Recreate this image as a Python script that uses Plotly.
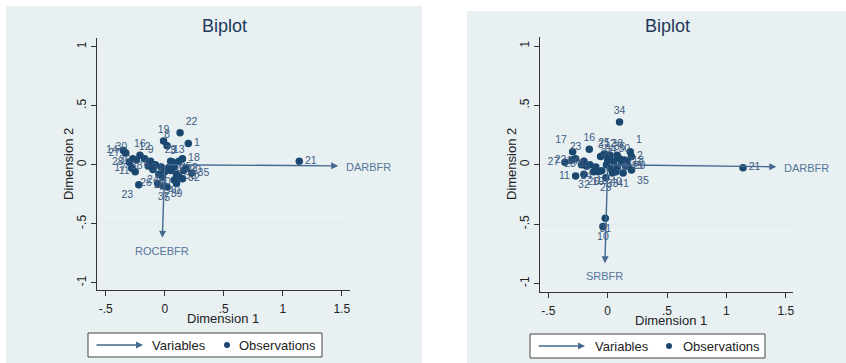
import plotly.graph_objects as go

W, H = 846, 363

# ---------------- data ----------------
obs_ids = [str(i) for i in range(1, 42)]

left_x = [0.20, 0.18, 0.07, 0.05, 0.02, -0.08, 0.10, 0.02, -0.12, 0.00,
          -0.25, -0.17, 0.12, -0.35, -0.05, -0.21, -0.28, 0.15, -0.01, 0.16,
          1.14, 0.13, -0.22, -0.10, 0.08, -0.06, -0.33, -0.30, 0.05, -0.27,
          -0.03, 0.15, 0.12, 0.03, 0.23, -0.24, -0.01, -0.14, 0.10, 0.08, -0.02]
left_y = [0.18, -0.03, 0.02, -0.05, -0.19, 0.00, -0.08, 0.16, 0.03, -0.06,
          -0.06, 0.05, 0.03, 0.12, -0.08, 0.08, -0.03, 0.05, 0.20, -0.05,
          0.03, 0.27, -0.17, -0.04, -0.02, -0.16, 0.10, 0.02, 0.03, 0.05,
          -0.02, -0.12, -0.10, -0.03, -0.07, 0.04, -0.18, -0.01, -0.16, -0.13, -0.10]

right_x = [0.19, 0.20, -0.06, 0.05, 0.08, -0.10, 0.12, -0.15, 0.00, -0.04,
           -0.27, 0.02, -0.05, -0.20, 0.15, -0.155, -0.295, 0.16, -0.08, 0.17,
           1.14, -0.30, -0.27, -0.18, -0.03, -0.12, -0.36, -0.22, -0.015, 0.14,
           -0.02, -0.20, 0.04, 0.10, 0.20, 0.10, -0.01, 0.08, 0.02, 0.07, 0.13]
right_y = [0.11, 0.07, 0.07, 0.03, -0.02, -0.02, 0.02, 0.00, 0.04, -0.52,
           -0.095, 0.08, -0.05, 0.03, -0.01, 0.13, 0.11, 0.03, -0.06, -0.01,
           -0.025, 0.04, 0.05, -0.01, 0.09, -0.06, 0.02, 0.00, -0.11, 0.04,
           -0.45, -0.08, -0.07, 0.36, -0.045, 0.05, 0.00, 0.08, -0.03, -0.06, -0.07]

left_vars = ["DARBFR", "ROCEBFR"]
left_var_x = [1.47, -0.02]
left_var_y = [-0.01, -0.62]

right_vars = ["DARBFR", "SRBFR"]
right_var_x = [1.42, -0.023]
right_var_y = [-0.017, -0.83]

x_tickvals = [-0.5, 0, 0.5, 1, 1.5]
x_ticktext = ["-.5", "0", ".5", "1", "1.5"]
y_tickvals = [-1, -0.5, 0, 0.5, 1]
y_ticktext = ["-1", "-.5", "0", ".5", "1"]

# label placement styles (per observation)
left_pos = ["middle right", "middle right", "top center", "middle right", "bottom center",
            "middle left", "middle right", "top center", "top center", "bottom center",
            "middle left", "top center", "top center", "middle left", "bottom center",
            "top center", "middle left", "middle right", "top center", "middle right",
            "middle right", "top right", "bottom left", "bottom center", "middle right",
            "middle left", "middle left", "middle left", "top center", "top left",
            "bottom center", "middle right", "middle right", "middle left", "middle right",
            "middle left", "bottom center", "middle left", "bottom center", "bottom center", "bottom center"]
right_pos = ["top right", "middle right", "top center", "top center", "middle right",
             "middle left", "middle right", "middle left", "top center", "bottom center",
             "middle left", "top center", "bottom center", "middle left", "middle right",
             "top center", "top left", "middle right", "bottom center", "middle right",
             "middle right", "middle left", "top center", "bottom center", "top center",
             "bottom center", "middle left", "middle left", "bottom center", "top center",
             "bottom center", "bottom center", "bottom center", "top center", "bottom right",
             "top center", "top center", "top center", "middle right", "bottom center", "bottom center"]

# ---------------- style ----------------
FONT = "Liberation Sans, Arial, sans-serif"
PANEL = "#e8f0f2"
MARK = "#1a476f"
OBSLAB = "#3d5d83"
ARROW = "#46698f"
VARLAB = "#56769a"
AXIS = "#333333"


def px(x):
    return x / W


def py(y):
    return 1 - y / H


fig = go.Figure()

for (xs, ys, pos, xa, ya) in [(left_x, left_y, left_pos, "x", "y"),
                              (right_x, right_y, right_pos, "x2", "y2")]:
    fig.add_trace(go.Scatter(
        x=xs, y=ys, mode="markers+text", text=obs_ids, textposition=pos,
        textfont=dict(family=FONT, size=10.5, color=OBSLAB),
        marker=dict(size=7.5, color=MARK), cliponaxis=False,
        xaxis=xa, yaxis=ya, showlegend=False, hoverinfo="skip"))

annotations = []
shapes = []

# panels
shapes.append(dict(type="rect", xref="paper", yref="paper", x0=px(6), x1=px(422),
                   y0=0, y1=py(6), fillcolor=PANEL, line=dict(width=0), layer="below"))
shapes.append(dict(type="rect", xref="paper", yref="paper", x0=px(467), x1=1,
                   y0=0, y1=py(11), fillcolor=PANEL, line=dict(width=0), layer="below"))

# variable arrows
def add_vars(names, vx, vy, xr, yr):
    for n, x, y in zip(names, vx, vy):
        annotations.append(dict(x=x, y=y, ax=0, ay=0, xref=xr, yref=yr, axref=xr, ayref=yr,
                                showarrow=True, arrowhead=2, arrowsize=1, arrowwidth=1.4,
                                arrowcolor=ARROW, text=""))
        if abs(x) > abs(y):
            annotations.append(dict(x=x, y=y, xref=xr, yref=yr, text=n, showarrow=False,
                                    xanchor="left", yanchor="middle", xshift=6, yshift=-1,
                                    font=dict(family=FONT, size=11, color=VARLAB)))
        else:
            annotations.append(dict(x=x, y=y, xref=xr, yref=yr, text=n, showarrow=False,
                                    xanchor="center", yanchor="top", yshift=-5,
                                    font=dict(family=FONT, size=11, color=VARLAB)))


add_vars(left_vars, left_var_x, left_var_y, "x", "y")
add_vars(right_vars, right_var_x, right_var_y, "x2", "y2")

# titles and axis titles
for cx, cy, t, s, ang, col in [(224, 26, "Biplot", 18, 0, "#22385a"),
                               (667, 26, "Biplot", 18, 0, "#22385a"),
                               (223, 318, "Dimension 1", 13, 0, "#222"),
                               (671, 320, "Dimension 1", 13, 0, "#222"),
                               (68, 164, "Dimension 2", 13, -90, "#222"),
                               (511, 164, "Dimension 2", 13, -90, "#222")]:
    annotations.append(dict(x=px(cx), y=py(cy), xref="paper", yref="paper", text=t,
                            showarrow=False, textangle=ang, xanchor="center", yanchor="middle",
                            font=dict(family=FONT, size=s, color=col)))

# legends (drawn)
for (bx0, bx1, by0, by1, l0, l1, tv, dotx, tob) in [
        (88, 322, 333, 357, 95, 143, 150, 227, 237),
        (530, 765, 334, 358, 537, 585, 593, 669, 681)]:
    ymid = (by0 + by1) / 2
    shapes.append(dict(type="rect", xref="paper", yref="paper", x0=px(bx0), x1=px(bx1),
                       y0=py(by1), y1=py(by0), fillcolor="white",
                       line=dict(color="#444", width=1)))
    annotations.append(dict(x=px(l1), y=py(ymid), xref="paper", yref="paper",
                            axref="pixel", ayref="pixel", ax=-(l1 - l0), ay=0,
                            showarrow=True, arrowhead=2, arrowsize=1, arrowwidth=1.4,
                            arrowcolor=ARROW, text=""))
    annotations.append(dict(x=px(tv), y=py(ymid), xref="paper", yref="paper", text="Variables",
                            showarrow=False, xanchor="left", yanchor="middle",
                            font=dict(family=FONT, size=13, color="#222")))
    shapes.append(dict(type="circle", xref="paper", yref="paper",
                       x0=px(dotx - 3), x1=px(dotx + 3), y0=py(ymid + 3), y1=py(ymid - 3),
                       fillcolor=MARK, line=dict(width=0)))
    annotations.append(dict(x=px(tob), y=py(ymid), xref="paper", yref="paper", text="Observations",
                            showarrow=False, xanchor="left", yanchor="middle",
                            font=dict(family=FONT, size=13, color="#222")))

axis_common = dict(showline=True, linecolor=AXIS, linewidth=1, ticks="outside", ticklen=5,
                   tickcolor=AXIS, zeroline=False, mirror=False,
                   tickfont=dict(family=FONT, size=12, color="#222"))

fig.update_layout(
    width=W, height=H, margin=dict(l=0, r=0, t=0, b=0),
    paper_bgcolor="white", plot_bgcolor="white", showlegend=False,
    xaxis=dict(domain=[px(97), px(350)], range=[-0.574, 1.57], anchor="y",
               tickvals=x_tickvals, ticktext=x_ticktext, showgrid=False,
               ticklabelstandoff=3, **axis_common),
    yaxis=dict(domain=[py(290), py(38)], range=[-1.062, 1.074], anchor="x",
               tickvals=y_tickvals, ticktext=y_ticktext, tickangle=-90,
               showgrid=True, gridcolor="#e3ebee", gridwidth=1, **axis_common),
    xaxis2=dict(domain=[px(540), px(793)], range=[-0.570, 1.561], anchor="y2",
                tickvals=x_tickvals, ticktext=x_ticktext, showgrid=False,
                ticklabelstandoff=3, **axis_common),
    yaxis2=dict(domain=[py(292), py(37)], range=[-1.072, 1.076], anchor="x2",
                tickvals=y_tickvals, ticktext=y_ticktext, tickangle=-90,
                showgrid=True, gridcolor="#e3ebee", gridwidth=1, **axis_common),
    shapes=shapes, annotations=annotations,
)

fig.write_html("out.html", config={"displayModeBar": False},
               post_script="document.body.style.margin='0';document.body.style.overflow='hidden';")
